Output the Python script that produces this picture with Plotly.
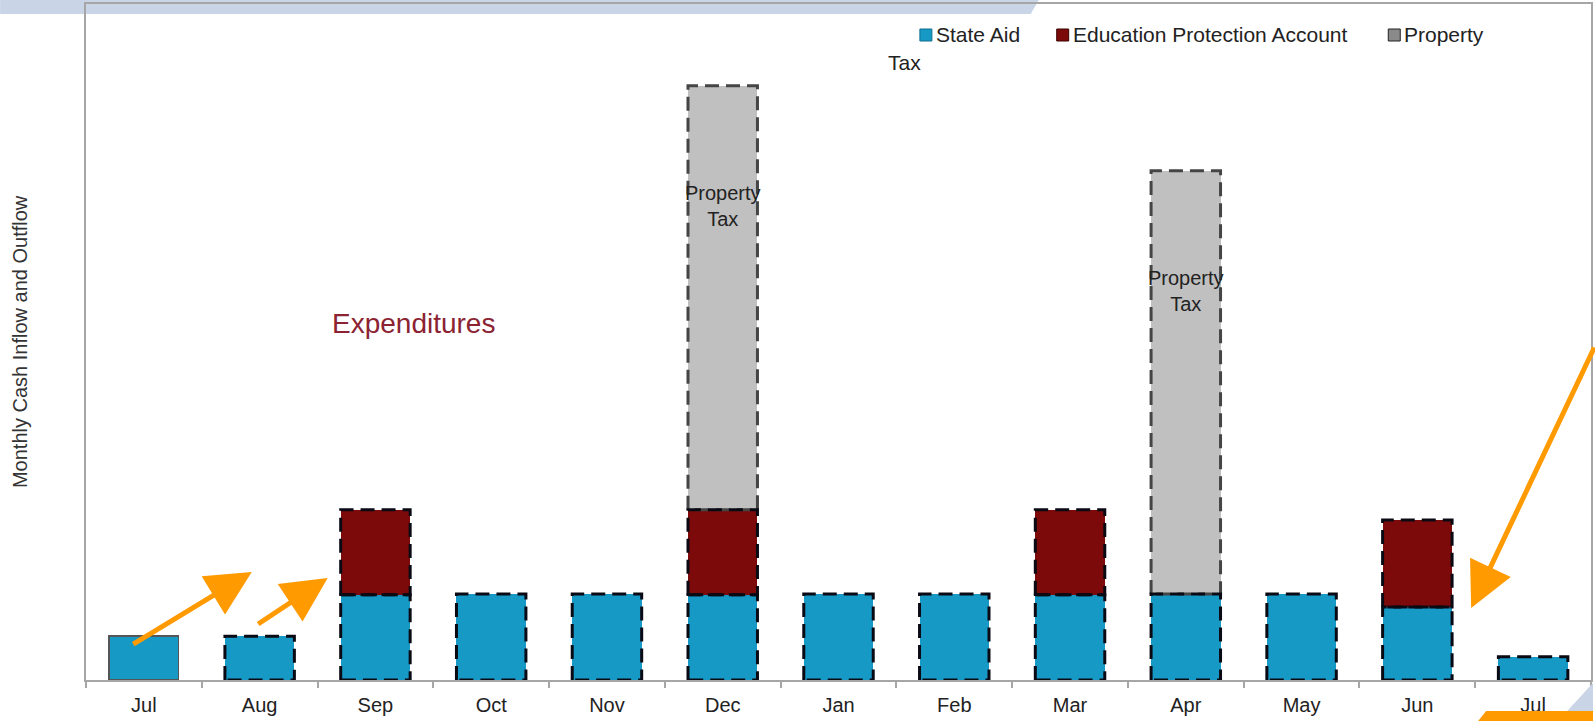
import plotly.graph_objects as go

W, H = 1595, 721
ML, MR, MT, MB = 86, 2, 4, 41

months = ["Jul", "Aug", "Sep", "Oct", "Nov", "Dec", "Jan", "Feb", "Mar", "Apr", "May", "Jun", "Jul"]
state_aid = [0.51, 0.51, 0.99, 1.0, 1.0, 0.99, 1.0, 1.0, 0.99, 1.0, 1.0, 0.85, 0.27]
education_protection = [0, 0, 0.99, 0, 0, 0.99, 0, 0, 0.99, 0, 0, 1.01, 0]
property_tax = [0, 0, 0, 0, 0, 4.93, 0, 0, 0, 4.92, 0, 0, 0]

BLUE = "#1799c6"
RED = "#7d0a0a"
GREY = "#c0c0c0"
ORANGE = "#ff9a00"
SLIDE = "#c9d4e6"
FONT = "Liberation Sans, Arial, sans-serif"
TEXT = "#222222"

HALF = 0.3           # half bar width in category units
solid_outline = [0]  # first bar has a thin solid border, the rest are dashed

x_pos = list(range(len(months)))


def px(x):
    return (x - ML) / (W - ML - MR)


def py(y):
    return (H - MB - y) / (H - MT - MB)


def outline(segments, color):
    xs, ys = [], []
    for i, lo, hi in segments:
        xs += [i - HALF, i - HALF, i + HALF, i + HALF, i - HALF, None]
        ys += [lo, hi, hi, lo, lo, None]
    return go.Scatter(x=xs, y=ys, mode="lines",
                      line=dict(color=color, width=3, dash="14px,7px"),
                      hoverinfo="skip", showlegend=False)


def label(x, y, text, size=20, color=TEXT, **kw):
    d = dict(x=px(x), y=py(y), xref="paper", yref="paper", text=text, showarrow=False,
             xanchor="center", yanchor="middle", font=dict(size=size, color=color, family=FONT))
    d.update(kw)
    return d


fig = go.Figure()
fig.add_bar(x=x_pos, y=state_aid, name="State Aid", marker_color=BLUE,
            marker_line=dict(color="#555555",
                             width=[1.5 if i in solid_outline else 0 for i in x_pos]))
fig.add_bar(x=x_pos, y=education_protection, name="Education Protection Account",
            marker_color=RED, marker_line_width=0)
fig.add_bar(x=x_pos, y=property_tax, name="Property Tax", marker_color=GREY,
            marker_line_width=0)

dark_segs, grey_segs = [], []
for i in x_pos:
    if i in solid_outline:
        continue
    a = state_aid[i]
    b = a + education_protection[i]
    c = b + property_tax[i]
    dark_segs.append((i, 0, a))
    if b > a:
        dark_segs.append((i, a, b))
    if c > b:
        grey_segs.append((i, b, c))
fig.add_trace(outline(grey_segs, "#454545"))
fig.add_trace(outline(dark_segs, "#0a0a14"))

annotations = []
for i in x_pos:
    if property_tax[i] > 0:
        top = state_aid[i] + education_protection[i] + property_tax[i]
        annotations.append(dict(x=i, y=top - 1.4, xref="x", yref="y", text="Property<br>Tax",
                                showarrow=False, font=dict(size=20, color=TEXT, family=FONT)))

annotations.append(label(414, 323, "Expenditures", size=28, color="#8b2332"))
annotations.append(label(20, 342, "Monthly Cash Inflow and Outflow", color="#333333", textangle=-90))

# legend drawn by hand to keep the wrapped "Tax"
legend_items = [(921, BLUE, "#0e6f8f", "State Aid"),
                (1058, RED, "#3a0000", "Education Protection Account"),
                (1390, "#8a8a8a", "#222222", "Property")]
shapes = []
for x0, fill, edge, name in legend_items:
    shapes.append(dict(type="rect", xref="paper", yref="paper",
                       x0=px(x0), x1=px(x0 + 12), y0=py(41), y1=py(29),
                       fillcolor=fill, line=dict(color=edge, width=1)))
    annotations.append(label(x0 + 14, 35, name, size=21, xanchor="left"))
annotations.append(label(887, 63, "Tax", size=21, xanchor="left"))

# orange arrows: (tip_x, tip_y, tail_x, tail_y) in pixels
arrows = [(252, 572, 132, 645), (328, 578, 257, 625), (1473, 608, 1597, 346)]
for tx, ty, sx, sy in arrows:
    annotations.append(dict(x=px(tx), y=py(ty), xref="paper", yref="paper",
                            ax=sx - tx, ay=sy - ty, text="", showarrow=True,
                            arrowhead=2, arrowwidth=5, arrowsize=1.8, arrowcolor=ORANGE))

# slide decorations
shapes.append(dict(type="path", xref="paper", yref="paper", layer="below",
                   path=f"M{px(0)},{py(0)} L{px(1040)},{py(0)} L{px(1032)},{py(14)} L{px(0)},{py(14)} Z",
                   fillcolor=SLIDE, line_width=0))
shapes.append(dict(type="path", xref="paper", yref="paper",
                   path=f"M{px(1560)},{py(721)} L{px(1595)},{py(683)} L{px(1595)},{py(721)} Z",
                   fillcolor=SLIDE, line_width=0))
shapes.append(dict(type="path", xref="paper", yref="paper",
                   path=f"M{px(1480)},{py(721)} L{px(1488)},{py(711)} L{px(1595)},{py(711)} L{px(1595)},{py(721)} Z",
                   fillcolor=ORANGE, line_width=0))

fig.update_layout(
    width=W, height=H,
    margin=dict(l=ML, r=MR, t=MT, b=MB),
    barmode="stack", bargap=0.4,
    paper_bgcolor="white", plot_bgcolor="rgba(0,0,0,0)",
    showlegend=False,
    font=dict(family=FONT, size=20, color="#333333"),
    annotations=annotations, shapes=shapes,
)
fig.update_xaxes(range=[-0.5, len(months) - 0.5], tickmode="array", tickvals=x_pos, ticktext=months,
                 ticks="", ticklabelstandoff=6, showgrid=False, zeroline=False, showline=True,
                 mirror=True, linecolor="#a6a6a6", linewidth=2, tickfont=dict(size=20, color=TEXT),
                 minor=dict(tickmode="array", tickvals=[i - 0.5 for i in range(len(months) + 1)],
                            ticks="outside", ticklen=6, tickcolor="#a6a6a6", tickwidth=1.5,
                            showgrid=False))
fig.update_yaxes(range=[0, 7.86], showticklabels=False, ticks="", showgrid=False, zeroline=False,
                 showline=True, mirror=True, linecolor="#a6a6a6", linewidth=2)

fig.write_html("out.html", config={"displayModeBar": False},
               post_script="document.body.style.margin='0';")
